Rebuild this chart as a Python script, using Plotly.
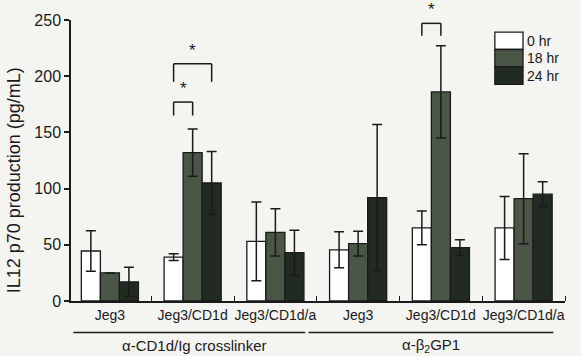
import plotly.graph_objects as go

# ---- data ----
categories = ["Jeg3", "Jeg3/CD1d", "Jeg3/CD1d/a", "Jeg3", "Jeg3/CD1d", "Jeg3/CD1d/a"]
group_labels = ["α-CD1d/Ig crosslinker", "α-β<sub>2</sub>GP1"]
series_names = ["0 hr", "18 hr", "24 hr"]
vals_0hr = [44.5, 39, 53, 45.5, 65, 65]
err_0hr = [18, 3, 35, 16, 15, 28]
vals_18hr = [25, 132, 61, 51, 186, 91]
err_18hr = [0, 21, 21, 11, 41, 40]
vals_24hr = [17, 105, 43, 92, 47.5, 95]
err_24hr = [13, 28, 20, 65, 7, 11]
y_ticks = [0, 50, 100, 150, 200, 250]
# significance: (category index, series a, series b, bracket top, leg bottom)
sig_pairs = [(1, 0, 1, 177, 165), (1, 0, 2, 211, 195), (4, 0, 1, 247, 236)]

fill_colors = ["#ffffff", "#4a5646", "#222b22"]
BG = "#f4f4f0"
INK = "#1a1a1a"
FONT = "Liberation Sans, Arial, sans-serif"

xpos = list(range(len(categories)))
bargap = 0.31
bw = (1 - bargap) / 3

fig = go.Figure()
for name, v, e, c in zip(series_names, [vals_0hr, vals_18hr, vals_24hr],
                         [err_0hr, err_18hr, err_24hr], fill_colors):
    fig.add_trace(go.Bar(
        x=xpos, y=v, name=name,
        marker=dict(color=c, line=dict(color=INK, width=1.3)),
        error_y=dict(type="data", array=e, visible=True, color=INK,
                     thickness=1.5, width=5),
        showlegend=False, hoverinfo="skip",
    ))

shapes = []
annotations = []
# significance brackets
for (ci, a, b, top, bot) in sig_pairs:
    xa = ci + (a - 1) * bw
    xb = ci + (b - 1) * bw
    for (x0, y0, x1, y1) in [(xa, bot, xa, top), (xa, top, xb, top), (xb, top, xb, bot)]:
        shapes.append(dict(type="line", xref="x", yref="y", x0=x0, y0=y0, x1=x1, y1=y1,
                           line=dict(color=INK, width=1.5)))
    annotations.append(dict(x=(xa + xb) / 2, y=top + 2, xref="x", yref="y", text="*",
                            showarrow=False, yanchor="bottom",
                            font=dict(size=17, color=INK, family=FONT)))

# group underlines and labels
line_spans = [(-0.44, 2.36), (2.40, 5.36)]
label_x = [1.02, 3.88]
for (x0, x1), lab, lx in zip(line_spans, group_labels, label_x):
    shapes.append(dict(type="line", xref="x", yref="paper", x0=x0, x1=x1,
                       y0=-0.112, y1=-0.112, line=dict(color=INK, width=1.5)))
    annotations.append(dict(x=lx, y=-0.157, xref="x", yref="paper", text=lab,
                            showarrow=False, yanchor="middle",
                            font=dict(size=15, color=INK, family=FONT)))

# custom legend
leg_y = [0.957, 0.895, 0.833, 0.771]
for i, (name, c) in enumerate(zip(series_names, fill_colors)):
    shapes.append(dict(type="rect", xref="paper", yref="paper",
                       x0=0.858, x1=0.915, y0=leg_y[i + 1], y1=leg_y[i],
                       fillcolor=c, line=dict(color=INK, width=1.3)))
    annotations.append(dict(x=0.919, y=(leg_y[i] + leg_y[i + 1]) / 2, xref="paper", yref="paper",
                            text=name, showarrow=False, xanchor="left", yanchor="middle",
                            font=dict(size=14, color=INK, family=FONT)))

# y-axis title
annotations.append(dict(x=-0.115, y=0.43, xref="paper", yref="paper",
                        text="IL12 p70 production (pg/mL)", textangle=-90,
                        showarrow=False, xanchor="center", yanchor="middle",
                        font=dict(size=18, color=INK, family=FONT)))

fig.update_layout(
    width=581, height=356,
    margin=dict(l=71, r=16, t=20, b=55),
    paper_bgcolor=BG, plot_bgcolor=BG,
    barmode="group", bargap=bargap, bargroupgap=0,
    font=dict(family=FONT, color=INK),
    shapes=shapes, annotations=annotations,
    xaxis=dict(
        range=[-0.47, 5.5], tickmode="array", tickvals=xpos, ticktext=categories,
        ticks="", showgrid=False, zeroline=False,
        showline=True, linecolor=INK, linewidth=1.5,
        tickfont=dict(size=14, color=INK, family=FONT),
        minor=dict(tickmode="array", tickvals=[i + 0.5 for i in xpos],
                   ticks="inside", ticklen=5, tickcolor=INK, tickwidth=1.2),
    ),
    yaxis=dict(
        range=[0, 250], tickmode="array", tickvals=y_ticks,
        ticks="outside", ticklen=5, tickcolor=INK, tickwidth=1.5,
        showgrid=False, zeroline=False,
        showline=True, linecolor=INK, linewidth=1.5,
        tickfont=dict(size=16, color=INK, family=FONT),
    ),
)

fig.write_html(
    "out.html",
    config={"displayModeBar": False},
    post_script="document.body.style.margin='0';document.body.style.background='%s';" % BG,
)
